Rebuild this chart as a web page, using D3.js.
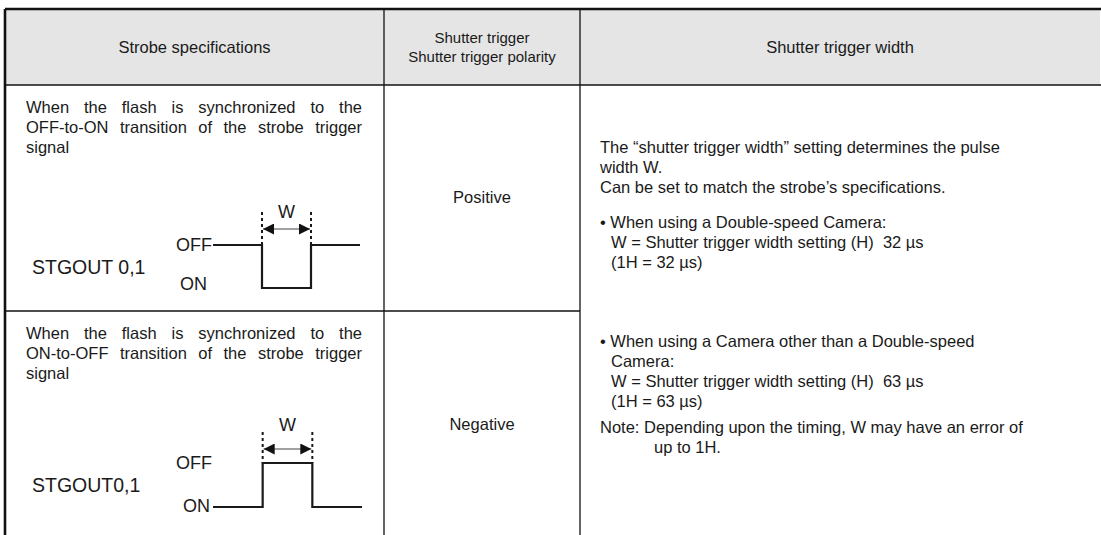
<!DOCTYPE html>
<html><head><meta charset="utf-8">
<script src="https://cdn.jsdelivr.net/npm/d3@7"></script>
<style>
html,body{margin:0;padding:0;background:#fff;}
svg text{font-family:"Liberation Sans",Arial,Helvetica,sans-serif;fill:#1a1a1a;}
</style></head>
<body>
<svg id="c" width="1101" height="535"></svg>
<script>
// ---- data ----
const headerLabels = [["Strobe specifications"], ["Shutter trigger", "Shutter trigger polarity"], ["Shutter trigger width"]];
const specTexts = [
  ["When the flash is synchronized to the", "OFF-to-ON transition of the strobe trigger", "signal"],
  ["When the flash is synchronized to the", "ON-to-OFF transition of the strobe trigger", "signal"]
];
const polarities = ["Positive", "Negative"];
const signalNames = ["STGOUT 0,1", "STGOUT0,1"];
const levelNames = ["OFF", "ON"];
const pulseLevels = [["OFF", "ON", "OFF"], ["ON", "OFF", "ON"]];
const pulseEdges = [0, 1, 2, 3];
const widthLabel = "W";
const widthLines = [
  {t: "The \u201Cshutter trigger width\u201D setting determines the pulse", ind: 0, row: 0},
  {t: "width W.", ind: 0, row: 1},
  {t: "Can be set to match the strobe\u2019s specifications.", ind: 0, row: 2},
  {t: "\u2022 When using a Double-speed Camera:", ind: 0, row: 3.75},
  {t: "W = Shutter trigger width setting (H)  32 \u00B5s", ind: 1, row: 4.75},
  {t: "(1H = 32 \u00B5s)", ind: 1, row: 5.75},
  {t: "\u2022 When using a Camera other than a Double-speed", ind: 0, row: 9.7},
  {t: "Camera:", ind: 1, row: 10.7},
  {t: "W = Shutter trigger width setting (H)  63 \u00B5s", ind: 1, row: 11.7},
  {t: "(1H = 63 \u00B5s)", ind: 1, row: 12.7},
  {t: "Note: Depending upon the timing, W may have an error of", ind: 0, row: 14},
  {t: "up to 1H.", ind: 2, row: 15}
];

// ---- layout ----
const FS = 16.5, LH = 20, DFS = 18, SFS = 19.5;
const colX = [5, 384, 580, 1100];
const rowY = [9, 85, 311, 545];
const svg = d3.select("#c");

svg.append("rect").attr("x", colX[0]).attr("y", rowY[0]).attr("width", colX[3] - colX[0]).attr("height", rowY[1] - rowY[0]).attr("fill", "#e5e5e5");

const gl = svg.append("g").attr("stroke", "#111").attr("fill", "none");
gl.append("line").attr("x1", colX[0]).attr("x2", 1101).attr("y1", rowY[0]).attr("y2", rowY[0]).attr("stroke-width", 2.6);
gl.append("line").attr("x1", colX[0]).attr("x2", colX[0]).attr("y1", rowY[0]).attr("y2", 535).attr("stroke-width", 2.6);
gl.append("line").attr("x1", colX[0]).attr("x2", 1101).attr("y1", rowY[1]).attr("y2", rowY[1]).attr("stroke-width", 1.6);
[colX[1], colX[2]].forEach(x => gl.append("line").attr("x1", x).attr("x2", x).attr("y1", rowY[0]).attr("y2", 535).attr("stroke-width", 1.3));
gl.append("line").attr("x1", colX[0]).attr("x2", colX[2]).attr("y1", rowY[2]).attr("y2", rowY[2]).attr("stroke-width", 1.5);

headerLabels.forEach((lines, i) => {
  const cx = (colX[i] + colX[i + 1]) / 2, cy = (rowY[0] + rowY[1]) / 2;
  const fs = lines.length > 1 ? 15 : FS;
  lines.forEach((l, j) => {
    svg.append("text").attr("x", cx).attr("y", cy + (j - (lines.length - 1) / 2) * 19 + fs * 0.36)
      .attr("text-anchor", "middle").attr("font-size", fs).text(l);
  });
});

function justified(g, words, x0, x1, y, justify) {
  const ws = words.split(" ");
  const nodes = ws.map(w => g.append("text").attr("y", y).attr("font-size", FS).text(w));
  const lens = nodes.map(n => n.node().getComputedTextLength());
  const total = d3.sum(lens);
  const t1 = g.append("text").attr("font-size", FS).text("a a"), t2 = g.append("text").attr("font-size", FS).text("aa");
  const spaceW = t1.node().getComputedTextLength() - t2.node().getComputedTextLength();
  t1.remove(); t2.remove();
  const gap = justify && ws.length > 1 ? (x1 - x0 - total) / (ws.length - 1) : spaceW;
  let x = x0;
  nodes.forEach((n, i) => { n.attr("x", x); x += lens[i] + gap; });
}

specTexts.forEach((lines, r) => {
  const g = svg.append("g");
  const top = rowY[r + 1];
  lines.forEach((l, j) => justified(g, l, 26, 362, top + 28 + j * LH, j < lines.length - 1));
});

polarities.forEach((p, r) => {
  const cy = r === 0 ? 197 : 424;
  svg.append("text").attr("x", (colX[1] + colX[2]) / 2).attr("y", cy + FS * 0.36)
    .attr("text-anchor", "middle").attr("font-size", FS).text(p);
});

const diag = [
  {x0: 213, x1: 360, yHigh: 245, yLow: 288, labelY: 218, arrowY: 229, dashTop: 212, onX: 180, onY: 290},
  {x0: 213, x1: 362, yHigh: 463, yLow: 507, labelY: 431, arrowY: 449, dashTop: 432, onX: null, onY: 512}
];
svg.append("defs").html(
  '<marker id="ah" viewBox="0 0 10 10" refX="10" refY="5" markerWidth="12" markerHeight="11" markerUnits="userSpaceOnUse" orient="auto-start-reverse"><path d="M0,0L10,5L0,10z" fill="#111"/></marker>');

diag.forEach((d, i) => {
  const t = d3.scaleLinear().domain([pulseEdges[0], pulseEdges[3]]).range([d.x0, d.x1]);
  const lv = d3.scalePoint().domain(levelNames).range([d.yHigh, d.yLow]);
  const pts = [];
  pulseLevels[i].forEach((L, k) => { pts.push([pulseEdges[k], L]); pts.push([pulseEdges[k + 1], L]); });
  svg.append("path").attr("d", d3.line().x(p => t(p[0])).y(p => lv(p[1]))(pts))
    .attr("fill", "none").attr("stroke", "#1a1a1a").attr("stroke-width", 2.2);
  [pulseEdges[1], pulseEdges[2]].forEach(e => {
    svg.append("line").attr("x1", t(e)).attr("x2", t(e)).attr("y1", d.dashTop).attr("y2", d.yHigh)
      .attr("stroke", "#1a1a1a").attr("stroke-width", 2).attr("stroke-dasharray", "3,3");
  });
  svg.append("line").attr("x1", t(pulseEdges[1]) + 1).attr("x2", t(pulseEdges[2]) - 1)
    .attr("y1", d.arrowY).attr("y2", d.arrowY).attr("stroke", "#444").attr("stroke-width", 1.2)
    .attr("marker-start", "url(#ah)").attr("marker-end", "url(#ah)");
  svg.append("text").attr("x", (t(pulseEdges[1]) + t(pulseEdges[2])) / 2).attr("y", d.labelY)
    .attr("text-anchor", "middle").attr("font-size", DFS).text(widthLabel);
  // OFF label (right-aligned against the line start)
  svg.append("text").attr("x", d.x0 - 1).attr("y", lv("OFF") + 6)
    .attr("text-anchor", "end").attr("font-size", DFS).text(levelNames[0]);
  // ON label
  const on = svg.append("text").attr("y", d.onY).attr("font-size", DFS).text(levelNames[1]);
  if (d.onX != null) on.attr("x", d.onX); else on.attr("x", d.x0 - 3).attr("text-anchor", "end");
  svg.append("text").attr("x", 32).attr("y", (d.yHigh + d.yLow) / 2 + 7).attr("font-size", SFS).text(signalNames[i]);
});

const gR = svg.append("g");
widthLines.forEach(l => {
  gR.append("text").attr("x", 600 + [0, 11, 54][l.ind]).attr("y", 153 + l.row * LH)
    .attr("font-size", FS).attr("xml:space", "preserve").style("white-space", "pre").text(l.t);
});
</script>
</body></html>
